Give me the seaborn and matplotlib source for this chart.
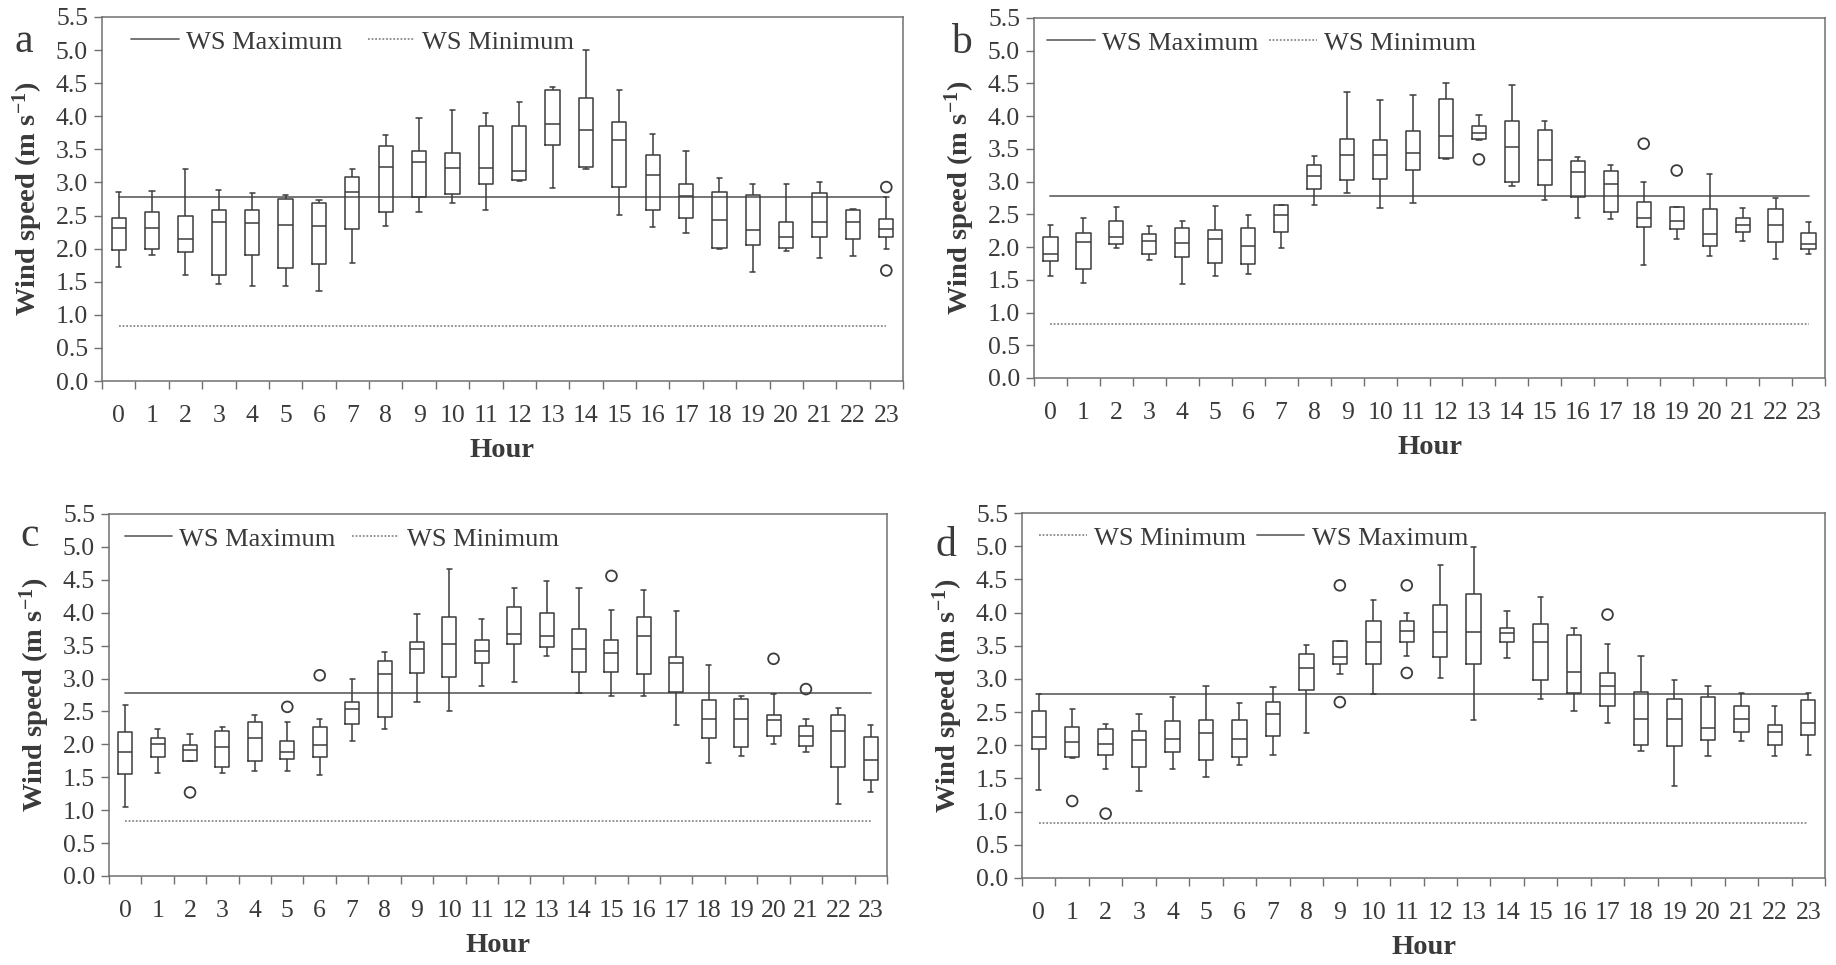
import numpy as np
import pandas as pd
import matplotlib
matplotlib.use("Agg")
import matplotlib.pyplot as plt
import seaborn as sns

# ---------------- data ----------------
hours = list(range(24))
ws_max = 2.78
ws_min = 0.83

# Panel a
a_lo  = [1.73, 1.90, 1.60, 1.47, 1.44, 1.44, 1.36, 1.79, 2.34, 2.56, 2.69, 2.59, 3.02, 2.92, 3.21, 2.51, 2.33, 2.23, 2.00, 1.65, 1.97, 1.86, 1.89, 2.00]
a_q1  = [1.98, 1.99, 1.95, 1.60, 1.91, 1.71, 1.77, 2.29, 2.55, 2.78, 2.82, 2.98, 3.03, 3.56, 3.23, 2.93, 2.59, 2.46, 2.01, 2.06, 2.01, 2.18, 2.15, 2.18]
a_med = [2.31, 2.31, 2.14, 2.41, 2.38, 2.35, 2.34, 2.86, 3.23, 3.31, 3.22, 3.22, 3.17, 3.88, 3.79, 3.64, 3.11, 2.80, 2.43, 2.28, 2.17, 2.40, 2.40, 2.30]
a_q3  = [2.46, 2.55, 2.50, 2.58, 2.59, 2.75, 2.69, 3.08, 3.55, 3.47, 3.44, 3.86, 3.86, 4.40, 4.28, 3.91, 3.42, 2.97, 2.85, 2.81, 2.40, 2.84, 2.58, 2.45]
a_hi  = [2.85, 2.87, 3.21, 2.89, 2.84, 2.81, 2.74, 3.21, 3.72, 3.98, 4.10, 4.05, 4.22, 4.44, 5.00, 4.40, 3.73, 3.47, 3.07, 2.98, 2.97, 3.01, 2.60, 2.78]
a_out_hour = [23, 23]
a_out_val  = [2.93, 1.67]

# Panel b
b_lo  = [1.56, 1.45, 1.99, 1.81, 1.43, 1.56, 1.59, 1.98, 2.65, 2.82, 2.59, 2.68, 3.35, 3.63, 2.94, 2.72, 2.44, 2.43, 1.73, 2.12, 1.86, 2.10, 1.82, 1.90]
b_q1  = [1.79, 1.66, 2.05, 1.89, 1.85, 1.76, 1.74, 2.23, 2.88, 3.02, 3.04, 3.18, 3.36, 3.65, 3.00, 2.95, 2.76, 2.54, 2.30, 2.27, 2.02, 2.23, 2.08, 1.97]
b_med = [1.90, 2.08, 2.15, 2.10, 2.06, 2.12, 2.01, 2.49, 3.09, 3.41, 3.41, 3.43, 3.69, 3.75, 3.53, 3.33, 3.15, 2.96, 2.45, 2.40, 2.20, 2.34, 2.34, 2.04]
b_q3  = [2.16, 2.21, 2.40, 2.20, 2.29, 2.26, 2.29, 2.64, 3.26, 3.65, 3.63, 3.78, 4.26, 3.85, 3.93, 3.79, 3.32, 3.16, 2.69, 2.61, 2.58, 2.45, 2.58, 2.21]
b_hi  = [2.34, 2.44, 2.62, 2.32, 2.40, 2.63, 2.49, 2.64, 3.39, 4.37, 4.25, 4.32, 4.50, 4.02, 4.48, 3.92, 3.37, 3.25, 2.99, 2.61, 3.11, 2.60, 2.75, 2.38]
b_out_hour = [13, 18, 19]
b_out_val  = [3.34, 3.58, 3.17]

# Panel c
c_lo  = [1.05, 1.57, 1.74, 1.56, 1.60, 1.60, 1.54, 2.05, 2.24, 2.65, 2.50, 2.88, 2.95, 3.35, 2.78, 2.73, 2.73, 2.29, 1.71, 1.82, 2.01, 1.88, 1.10, 1.27]
c_q1  = [1.55, 1.81, 1.75, 1.66, 1.75, 1.78, 1.81, 2.31, 2.42, 3.08, 3.03, 3.23, 3.53, 3.48, 3.10, 3.10, 3.07, 2.79, 2.09, 1.96, 2.12, 1.98, 1.65, 1.46]
c_med = [1.88, 2.01, 1.91, 1.96, 2.10, 1.88, 1.99, 2.54, 3.07, 3.45, 3.53, 3.42, 3.68, 3.65, 3.45, 3.39, 3.65, 3.23, 2.39, 2.38, 2.37, 2.12, 2.20, 1.76]
c_q3  = [2.19, 2.09, 1.99, 2.21, 2.34, 2.05, 2.26, 2.64, 3.27, 3.56, 3.94, 3.59, 4.09, 3.99, 3.76, 3.58, 3.93, 3.32, 2.68, 2.69, 2.44, 2.28, 2.44, 2.11]
c_hi  = [2.60, 2.23, 2.16, 2.27, 2.45, 2.34, 2.39, 2.99, 3.41, 3.98, 4.67, 3.90, 4.37, 4.48, 4.38, 4.04, 4.34, 4.02, 3.21, 2.74, 2.76, 2.38, 2.55, 2.30]
c_out_hour = [2, 5, 6, 15, 20, 21]
c_out_val  = [1.27, 2.57, 3.05, 4.56, 3.30, 2.84]

# Panel d
d_lo  = [1.33, 1.81, 1.64, 1.31, 1.65, 1.52, 1.70, 1.86, 2.18, 3.07, 2.77, 3.35, 3.01, 2.38, 3.31, 2.70, 2.51, 2.34, 1.91, 1.38, 1.84, 2.06, 1.84, 1.85]
d_q1  = [1.94, 1.83, 1.86, 1.68, 1.90, 1.78, 1.83, 2.14, 2.84, 3.23, 3.22, 3.56, 3.33, 3.23, 3.55, 2.99, 2.79, 2.59, 2.00, 1.99, 2.08, 2.20, 2.00, 2.16]
d_med = [2.13, 2.05, 2.02, 2.08, 2.09, 2.18, 2.10, 2.47, 3.16, 3.33, 3.55, 3.72, 3.71, 3.71, 3.69, 3.56, 3.11, 2.90, 2.40, 2.40, 2.26, 2.40, 2.20, 2.34]
d_q3  = [2.51, 2.27, 2.24, 2.22, 2.37, 2.38, 2.38, 2.65, 3.37, 3.57, 3.88, 3.88, 4.11, 4.28, 3.77, 3.82, 3.66, 3.09, 2.81, 2.70, 2.72, 2.59, 2.31, 2.68]
d_hi  = [2.77, 2.54, 2.32, 2.47, 2.73, 2.90, 2.64, 2.88, 3.51, 3.57, 4.19, 4.00, 4.71, 4.99, 4.03, 4.23, 3.77, 3.53, 3.35, 2.99, 2.90, 2.79, 2.59, 2.79]
d_out_hour = [1, 2, 9, 9, 11, 11, 17]
d_out_val  = [1.16, 0.97, 4.41, 2.65, 4.41, 3.09, 3.97]

y_ticks = [0.0, 0.5, 1.0, 1.5, 2.0, 2.5, 3.0, 3.5, 4.0, 4.5, 5.0, 5.5]
y_tick_labels = ["0.0", "0.5", "1.0", "1.5", "2.0", "2.5", "3.0", "3.5", "4.0", "4.5", "5.0", "5.5"]
x_label = "Hour"
y_label = "Wind speed (m s$^{-1}$)"
label_max = "WS Maximum"
label_min = "WS Minimum"

# ---------------- style ----------------
sns.set_theme(style="white")
plt.rcParams["font.family"] = ["Liberation Serif", "DejaVu Serif"]
plt.rcParams["mathtext.fontset"] = "custom"
plt.rcParams["mathtext.rm"] = "Liberation Serif"
plt.rcParams["mathtext.bf"] = "Liberation Serif:bold"
plt.rcParams["mathtext.default"] = "regular"

TXT = "#3a3a3a"
BOX = "#3c3c3c"
SPINE = "#707070"
MAXC = "#6a6a6a"
MINC = "#8a8a8a"
TICK_FS = 18.5
LEG_FS = 19
LAB_FS = 20.5

W, H = 1836, 965
fig = plt.figure(figsize=(W / 100, H / 100), dpi=100)


def px_axes(left, top, right, bottom):
    return fig.add_axes([left / W, 1 - bottom / H, (right - left) / W, (bottom - top) / H])


def draw(ax, lo, q1, med, q3, hi, out_h, out_v, order, leg_x, colsp):
    df = pd.DataFrame({
        "hour": np.repeat(hours, 5),
        "speed": np.column_stack([lo, q1, med, q3, hi]).ravel(),
    })
    sns.boxplot(data=df, x="hour", y="speed", ax=ax, native_scale=True,
                whis=(0, 100), showfliers=False, fill=False, color=BOX,
                width=0.43, linewidth=1.1, capwidths=0.16)
    sns.scatterplot(x=out_h, y=out_v, ax=ax, marker="o", s=60, color=BOX,
                    facecolor="none", edgecolor=BOX, linewidth=1.3, zorder=4)
    l_max, = ax.plot([hours[0], hours[-1]], [ws_max, ws_max], color=MAXC, lw=1.3,
                     ls="-", zorder=1)
    l_min, = ax.plot([hours[0], hours[-1]], [ws_min, ws_min], color=MINC, lw=1.3,
                     ls=(0, (1, 1)), zorder=1)
    handles = {"max": (l_max, label_max), "min": (l_min, label_min)}
    hs = [handles[k][0] for k in order]
    ls = [handles[k][1] for k in order]
    leg = ax.legend(hs, ls, loc="upper left", bbox_to_anchor=(leg_x, 1.0), ncol=2,
                    frameon=False, fontsize=LEG_FS, handlelength=1.8,
                    handletextpad=0.28, columnspacing=colsp, borderaxespad=0.2,
                    borderpad=0.3)
    for t in leg.get_texts():
        t.set_color(TXT)

    ax.set_xlim(-0.5, 23.5)
    ax.set_ylim(0, 5.5)
    ax.set_xticks(hours)
    ax.set_xticklabels([str(h) for h in hours])
    ax.set_xticks(np.arange(-0.5, 24, 1), minor=True)
    ax.tick_params(axis="x", which="major", length=0, pad=17, labelsize=TICK_FS, labelcolor=TXT)
    ax.tick_params(axis="x", which="minor", direction="out", length=6, width=1.0,
                   color=SPINE, bottom=True)
    ax.set_yticks(y_ticks)
    ax.set_yticklabels(y_tick_labels)
    ax.tick_params(axis="y", which="major", direction="out", length=6, width=1.0,
                   color=SPINE, pad=4, labelsize=TICK_FS, labelcolor=TXT, left=True)
    for s in ax.spines.values():
        s.set_visible(True)
        s.set_color(SPINE)
        s.set_linewidth(1.1)
    ax.set_xlabel(x_label, fontsize=LAB_FS, fontweight="bold", color=TXT, labelpad=8)
    ax.set_ylabel(y_label, fontsize=LAB_FS, fontweight="bold", color=TXT, labelpad=8)
    ax.set_facecolor("white")


ax_a = px_axes(102, 17, 903, 381)
ax_b = px_axes(1034, 18, 1825, 378)
ax_c = px_axes(109, 514, 887, 876)
ax_d = px_axes(1022, 513, 1825, 878)

draw(ax_a, a_lo, a_q1, a_med, a_q3, a_hi, a_out_hour, a_out_val, ["max", "min"], 0.02, 0.95)
draw(ax_b, b_lo, b_q1, b_med, b_q3, b_hi, b_out_hour, b_out_val, ["max", "min"], 0.0, 0.4)
draw(ax_c, c_lo, c_q1, c_med, c_q3, c_hi, c_out_hour, c_out_val, ["max", "min"], 0.003, 0.6)
draw(ax_d, d_lo, d_q1, d_med, d_q3, d_hi, d_out_hour, d_out_val, ["min", "max"], 0.005, 0.4)

for letter, x, y in [("a", 14, 52), ("b", 951, 53), ("c", 20, 546), ("d", 936, 556)]:
    fig.text(x / W, 1 - y / H, letter, fontsize=30, color=TXT, ha="left", va="baseline")

fig.savefig("out.png", dpi=100, facecolor="white")
